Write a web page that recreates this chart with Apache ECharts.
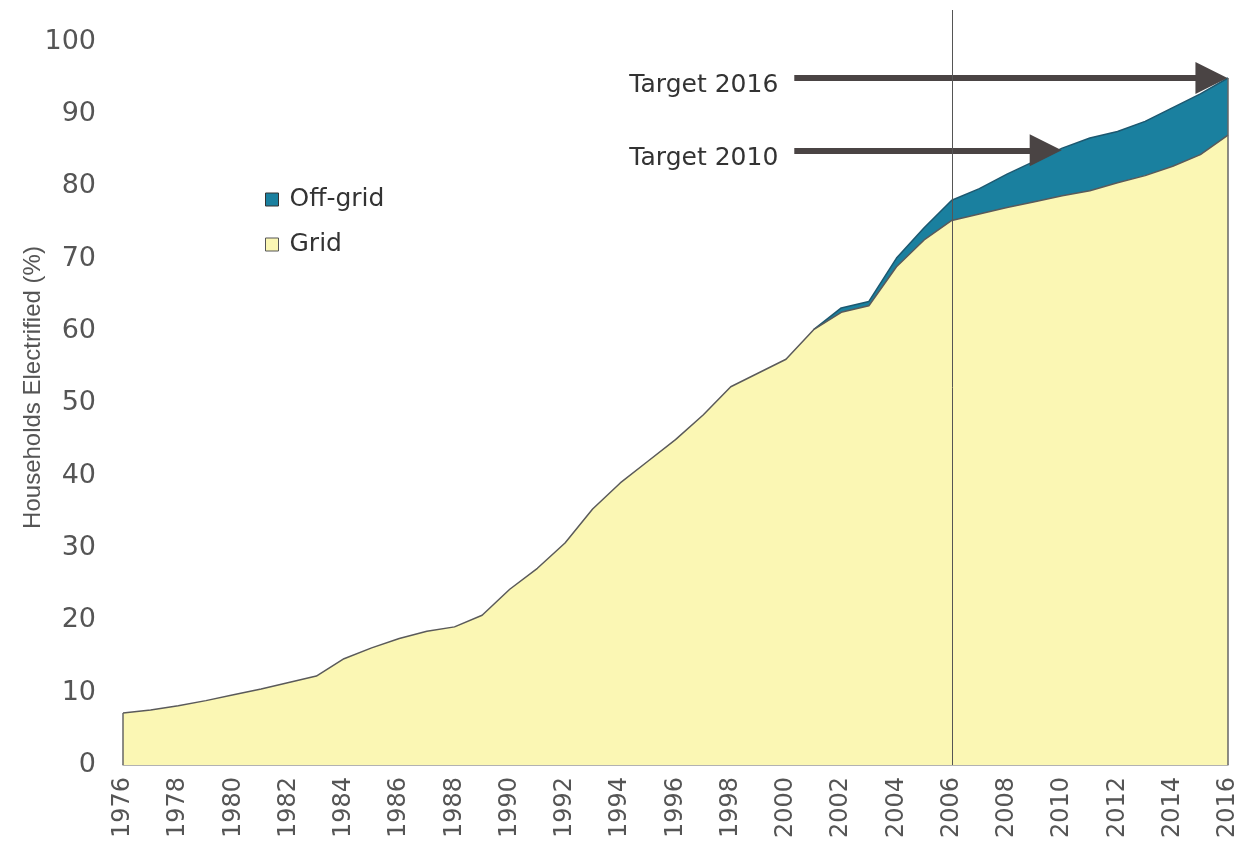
<!DOCTYPE html>
<html lang="en">
<head>
    <meta charset="UTF-8">
    <title>Households Electrified</title>
    <script src="https://cdn.jsdelivr.net/npm/echarts@6/dist/echarts.min.js"></script>
    <style>
        html, body { margin: 0; padding: 0; background: #fff; }
    </style>
</head>
<body>
<div id="main" style="width: 1242px;height:844px;"></div>
<script type="text/javascript">
    // years on the x axis
    var years = [];
    for (var y = 1976; y <= 2016; y++) years.push(y);

    // grid-connected households (%), 1976..2016
    var gridVals = [7.2, 7.6, 8.2, 8.9, 9.7, 10.5, 11.4, 12.3, 14.7, 16.2,
        17.5, 18.5, 19.1, 20.7, 24.3, 27.2, 30.7, 35.4, 39.0, 42.0,
        45.0, 48.4, 52.3, 54.2, 56.1, 60.2, 62.6, 63.5, 68.9, 72.6,
        75.3, 76.2, 77.1, 77.9, 78.7, 79.4, 80.5, 81.5, 82.8, 84.4, 87.1];

    // off-grid households (%), only from 2001 on
    var offGridVals = [null, null, null, null, null, null, null, null, null, null,
        null, null, null, null, null, null, null, null, null, null,
        null, null, null, null, null, 0, 0.6, 0.6, 1.2, 1.7,
        2.8, 3.5, 4.6, 5.6, 6.6, 7.3, 7.1, 7.5, 8.1, 8.4, 7.9];

    // targets: [label, year, value]
    var targets = [['Target 2016', 2016, 95], ['Target 2010', 2010, 85]];
    var arrowStart = 2000.3;
    var splitYear = 2006;

    var gridData = years.map(function (yr, i) { return [yr, gridVals[i]]; });
    // off-grid is drawn on top of grid: total = grid + off-grid
    var totalData = [];
    years.forEach(function (yr, i) {
        if (offGridVals[i] != null) totalData.push([yr, +(gridVals[i] + offGridVals[i]).toFixed(1)]);
    });

    var last = years.length - 1;
    var totalLast = gridVals[last] + offGridVals[last];

    var arrowLines = targets.map(function (t) {
        return [
            {coord: [arrowStart, t[2]], label: {formatter: t[0]}},
            {coord: [t[1] - 0.6, t[2]]}
        ];
    });

    var myChart = echarts.init(document.getElementById('main'));
    myChart.setOption({
        backgroundColor: '#fff',
        animation: false,
        textStyle: {fontFamily: 'DejaVu Sans'},
        grid: {left: 123, right: 14, top: 10, bottom: 79, outerBoundsMode: 'none', containLabel: false},
        legend: {
            orient: 'vertical',
            left: 260,
            top: 182,
            itemGap: 20,
            itemWidth: 13,
            itemHeight: 13,
            icon: 'rect',
            textStyle: {fontSize: 25, color: '#333', fontFamily: 'DejaVu Sans', padding: [0, 0, 0, 6]},
            data: [
                {name: 'Off-grid', itemStyle: {color: '#1a809f', borderColor: '#333', borderWidth: 1}},
                {name: 'Grid', itemStyle: {color: '#fbf7b4', borderColor: '#555', borderWidth: 1}}
            ]
        },
        xAxis: {
            type: 'value',
            min: 1976,
            max: 2016,
            interval: 2,
            splitLine: {show: false},
            axisTick: {show: false},
            axisLine: {lineStyle: {color: '#999', width: 1.5}},
            axisLabel: {
                rotate: 90,
                margin: 12,
                fontSize: 24,
                color: '#555',
                formatter: function (v) { return String(v); }
            }
        },
        yAxis: {
            type: 'value',
            min: 0,
            max: 104.4,
            interval: 10,
            name: 'Households Electrified (%)',
            nameLocation: 'middle',
            nameGap: 78,
            nameMoveOverlap: false,
            nameTextStyle: {fontSize: 24, color: '#555', fontFamily: 'Liberation Sans'},
            splitLine: {show: false},
            axisTick: {show: false},
            axisLine: {show: false},
            axisLabel: {margin: 27, fontSize: 27, color: '#555', showMaxLabel: false}
        },
        series: [
            {
                name: 'Off-grid',
                type: 'line',
                z: 2,
                data: totalData,
                showSymbol: false,
                clip: false,
                lineStyle: {color: '#1c5870', width: 1.5},
                itemStyle: {color: '#1a809f'},
                areaStyle: {color: '#1a809f', opacity: 1},
                markLine: {
                    silent: true,
                    symbol: ['none', 'triangle'],
                    symbolSize: [32, 32],
                    label: {
                        show: true,
                        position: 'start',
                        distance: 16,
                        fontSize: 25,
                        color: '#333',
                        fontFamily: 'DejaVu Sans',
                        verticalAlign: 'top',
                        lineHeight: 16
                    },
                    lineStyle: {color: '#4a4444', width: 6, type: 'solid', opacity: 1},
                    itemStyle: {color: '#4a4444'},
                    data: arrowLines
                }
            },
            {
                name: 'Grid',
                type: 'line',
                z: 3,
                data: gridData,
                showSymbol: false,
                clip: false,
                lineStyle: {color: '#5a5a5a', width: 1.5},
                itemStyle: {color: '#fbf7b4'},
                areaStyle: {color: '#fbf7b4', opacity: 1},
                markLine: {
                    silent: true,
                    symbol: 'none',
                    label: {show: false},
                    lineStyle: {color: '#666', width: 1.5, type: 'solid', opacity: 1},
                    data: [
                        [{coord: [years[0], 0]}, {coord: [years[0], gridVals[0]]}],
                        [{coord: [years[last], 0]}, {coord: [years[last], totalLast]}],
                        [{coord: [splitYear, 0], lineStyle: {color: '#555', width: 1}}, {coord: [splitYear, 104.4]}]
                    ]
                }
            }
        ]
    });
</script>
</body>
</html>
